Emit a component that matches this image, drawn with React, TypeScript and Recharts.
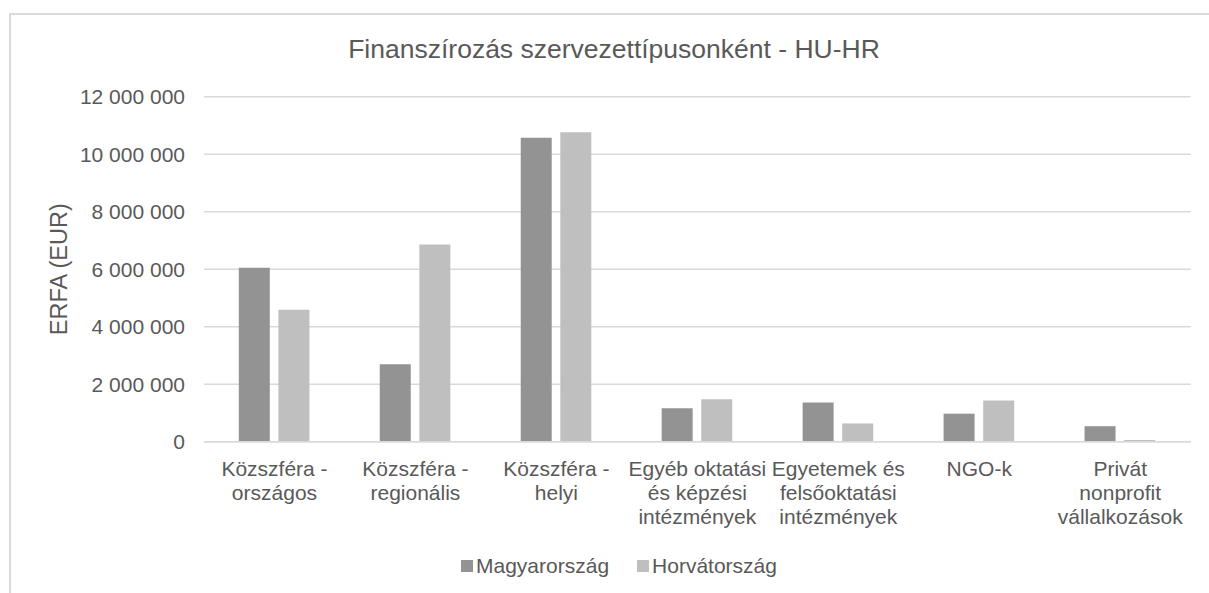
import { Bar, BarChart, CartesianGrid, XAxis, YAxis } from "recharts"

const categories = [
  "Közszféra - országos",
  "Közszféra - regionális",
  "Közszféra - helyi",
  "Egyéb oktatási és képzési intézmények",
  "Egyetemek és felsőoktatási intézmények",
  "NGO-k",
  "Privát nonprofit vállalkozások",
]

// how the axis labels wrap in the original
const categoryLines = [
  ["Közszféra -", "országos"],
  ["Közszféra -", "regionális"],
  ["Közszféra -", "helyi"],
  ["Egyéb oktatási", "és képzési", "intézmények"],
  ["Egyetemek és", "felsőoktatási", "intézmények"],
  ["NGO-k"],
  ["Privát", "nonprofit", "vállalkozások"],
]

const hungary = [6050000, 2690000, 10570000, 1160000, 1360000, 975000, 540000]
const croatia = [4590000, 6855000, 10765000, 1480000, 635000, 1430000, 60000]

const yTicks = [0, 2000000, 4000000, 6000000, 8000000, 10000000, 12000000]

const series = [
  { key: "hu", name: "Magyarország", color: "#939393" },
  { key: "hr", name: "Horvátország", color: "#bfbfbf" },
]

const title = "Finanszírozás szervezettípusonként - HU-HR"
const yTitle = "ERFA (EUR)"

const data = categories.map((c, i) => ({ name: c, hu: hungary[i], hr: croatia[i] }))

const FONT = '"Liberation Sans", Arial, sans-serif'
const TEXT = "#595959"
const GRID = "#d9d9d9"

const fmt = (v: number) => String(v).replace(/\B(?=(\d{3})+(?!\d))/g, " ")

function CategoryTick(props: any) {
  const { x, y, payload } = props
  const lines = categoryLines[payload.index] || [payload.value]
  return (
    <text x={x} y={y + 34} textAnchor="middle" fill={TEXT} fontSize={21} fontFamily={FONT}>
      {lines.map((l, i) => (
        <tspan key={i} x={x} dy={i === 0 ? 0 : 24}>
          {l}
        </tspan>
      ))}
    </text>
  )
}

function YTitle(props: any) {
  const vb = props.viewBox || { x: 0, y: 0, width: 0, height: 0 }
  const cx = 56
  const cy = vb.y + vb.height / 2
  return (
    <text
      x={cx}
      y={cy}
      transform={`rotate(-90 ${cx} ${cy})`}
      textAnchor="middle"
      fill={TEXT}
      fontSize={23.5}
      fontFamily={FONT}
    >
      {yTitle}
    </text>
  )
}

export default function App() {
  return (
    <div
      style={{
        position: "fixed",
        left: 9,
        top: 13,
        width: 1198,
        height: 578,
        borderTop: `2px solid ${GRID}`,
        borderLeft: `2px solid ${GRID}`,
        background: "#fff",
        fontFamily: FONT,
      }}
    >
      <div
        style={{
          position: "absolute",
          left: 603,
          top: 20.6,
          transform: "translateX(-50%)",
          whiteSpace: "nowrap",
          fontSize: 26.5,
          lineHeight: 1,
          color: TEXT,
        }}
      >
        {title}
      </div>
      <BarChart
        width={1198}
        height={578}
        data={data}
        margin={{ top: 81.7, right: 18.3, left: 0, bottom: 91.3 }}
        barCategoryGap={34.8}
        barGap={8.6}
      >
        <CartesianGrid vertical={false} stroke={GRID} strokeWidth={1.5} />
        <XAxis
          dataKey="name"
          height={60}
          interval={0}
          tickLine={false}
          tickSize={0}
          tickMargin={0}
          axisLine={{ stroke: GRID, strokeWidth: 1.5 }}
          tick={<CategoryTick />}
        />
        <YAxis
          width={193}
          domain={[0, 12000000]}
          ticks={yTicks}
          interval={0}
          axisLine={false}
          tickLine={false}
          tickSize={0}
          tickMargin={19}
          tickFormatter={fmt}
          tick={{ fill: TEXT, fontSize: 21, fontFamily: FONT }}
          label={<YTitle />}
        />
        {series.map((s) => (
          <Bar key={s.key} dataKey={s.key} name={s.name} fill={s.color} isAnimationActive={false} />
        ))}
      </BarChart>
      <div
        style={{
          position: "absolute",
          left: 450,
          top: 540.2,
          display: "flex",
          alignItems: "center",
          fontSize: 21,
          lineHeight: 1,
          color: TEXT,
          whiteSpace: "nowrap",
        }}
      >
        {series.map((s, i) => (
          <div key={s.key} style={{ display: "flex", alignItems: "center", marginLeft: i === 0 ? 0 : 28 }}>
            <span style={{ width: 12, height: 12, background: s.color, marginRight: 3, display: "inline-block" }} />
            <span>{s.name}</span>
          </div>
        ))}
      </div>
    </div>
  )
}
